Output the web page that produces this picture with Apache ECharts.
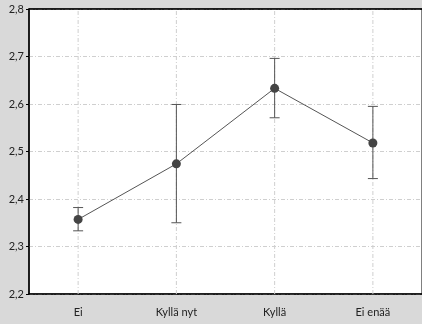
<!DOCTYPE html>
<html><head><meta charset="utf-8">
<script src="https://cdn.jsdelivr.net/npm/echarts@6/dist/echarts.min.js"></script>
<style>html,body{margin:0;padding:0;background:#d9d9d9}#c{width:422px;height:324px}</style>
</head><body><div id="c"></div>
<script>
const categories = ['Ei', 'Kyllä nyt', 'Kyllä', 'Ei enää'];
const means = [2.357, 2.474, 2.633, 2.518];
const lower = [2.333, 2.350, 2.571, 2.443];
const upper = [2.382, 2.599, 2.696, 2.595];
const yTicks = [2.2, 2.3, 2.4, 2.5, 2.6, 2.7, 2.8];

const yMin = yTicks[0], yMax = yTicks[yTicks.length - 1];
const chart = echarts.init(document.getElementById('c'), null, {renderer: 'canvas'});
const font = 'Lato, "DejaVu Sans", sans-serif';
const gridColor = '#cfcfcf';
const gridDash = [4, 2, 1, 2];
const errData = categories.map((c, i) => [i, lower[i], upper[i]]);
chart.setOption({
  backgroundColor: '#d9d9d9',
  animation: false,
  grid: {left: 29, top: 9, right: -4, bottom: 30, show: true, backgroundColor: '#fff', borderColor: '#000', borderWidth: 1},
  xAxis: [{
    type: 'category', data: categories, boundaryGap: true, position: 'bottom',
    axisLine: {lineStyle: {color: '#000', width: 1.5}},
    axisTick: {alignWithLabel: true, inside: true, length: 3, lineStyle: {color: '#000'}},
    axisLabel: {color: '#222', fontFamily: font, fontSize: 11, margin: 13},
    splitLine: {show: false}
  }, {
    type: 'category', data: categories, boundaryGap: true, position: 'top',
    axisLine: {lineStyle: {color: '#000', width: 1.5}},
    axisTick: {alignWithLabel: true, inside: true, length: 3, lineStyle: {color: '#000'}},
    axisLabel: {show: false}, splitLine: {show: false}
  }],
  yAxis: {
    type: 'value', min: yMin, max: yMax, interval: 0.1,
    axisLine: {show: true, lineStyle: {color: '#000', width: 1.5}},
    axisTick: {show: true, length: 3, lineStyle: {color: '#000'}},
    axisLabel: {color: '#222', fontFamily: font, fontSize: 11, margin: 5,
      formatter: v => v.toFixed(1).replace('.', ',')},
    splitLine: {show: true, lineStyle: {color: gridColor, type: gridDash, width: 1}}
  },
  series: [{
    type: 'custom',
    data: categories.map((c, i) => [i]),
    z: 1, silent: true,
    renderItem: function (params, api) {
      const x = api.value(0);
      const a = api.coord([x, yMin]);
      const b = api.coord([x, yMax]);
      return {type: 'line', shape: {x1: a[0], y1: a[1], x2: b[0], y2: b[1]},
        style: {stroke: gridColor, lineWidth: 1, lineDash: gridDash}};
    }
  }, {
    type: 'custom',
    data: errData,
    z: 3,
    renderItem: function (params, api) {
      const x = api.value(0);
      const lo = api.coord([x, api.value(1)]);
      const hi = api.coord([x, api.value(2)]);
      const w = 5;
      const st = {stroke: '#555', lineWidth: 1};
      return {type: 'group', children: [
        {type: 'line', shape: {x1: lo[0], y1: lo[1], x2: hi[0], y2: hi[1]}, style: st},
        {type: 'line', shape: {x1: lo[0] - w, y1: lo[1], x2: lo[0] + w, y2: lo[1]}, style: st},
        {type: 'line', shape: {x1: hi[0] - w, y1: hi[1], x2: hi[0] + w, y2: hi[1]}, style: st}
      ]};
    }
  }, {
    type: 'line', data: means, z: 4,
    symbol: 'circle', symbolSize: 9,
    lineStyle: {color: '#555', width: 1},
    itemStyle: {color: '#444'}
  }]
});
</script></body></html>
